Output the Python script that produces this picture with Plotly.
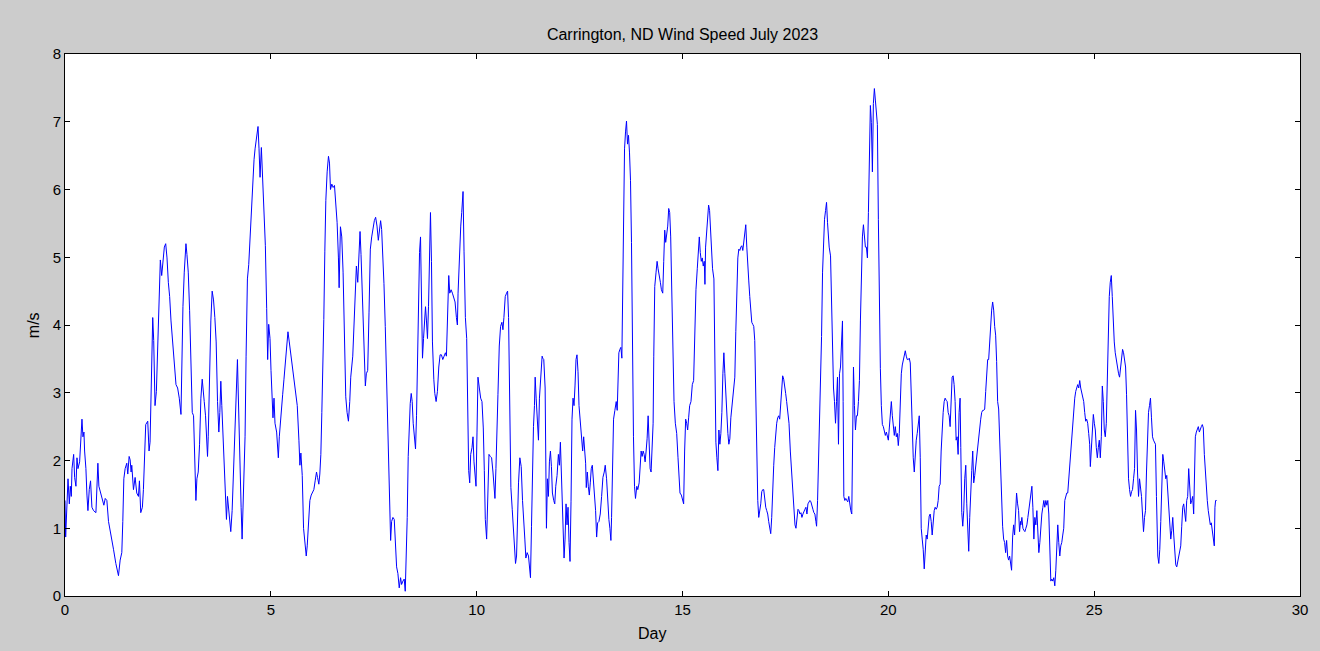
import plotly.graph_objects as go

# Wind speed (m/s), grouped in consecutive stretches of days
d1 = [0.000,0.016,0.073,0.105,0.129,0.153,0.170,0.210,0.234,0.266,
      0.291,0.315,0.355,0.379,0.412,0.436,0.460,0.476,0.508,0.533,
      0.557,0.589,0.621,0.654,0.694,0.751,0.775,0.799,0.823,0.856,
      0.896,0.944,0.977,1.017,1.057,1.122,1.178,1.235,1.299,1.340,
      1.380,1.404,1.429,1.461,1.501,1.525,1.558,1.582,1.606,1.622,
      1.663,1.703,1.743,1.784,1.808,1.840,1.880,1.905,1.929,1.961,
      2.010,2.042,2.066,2.090,2.107,2.131,2.155,2.187,2.220,2.252,
      2.284]
v1 = [1.41,0.87,1.73,1.36,1.62,1.47,1.88,2.09,1.75,1.62,
      2.04,1.88,1.98,2.35,2.61,2.35,2.42,2.14,1.88,1.49,
      1.26,1.57,1.70,1.31,1.26,1.23,1.62,1.96,1.62,1.54,
      1.47,1.34,1.44,1.41,1.10,0.84,0.69,0.48,0.30,0.53,
      0.64,1.10,1.73,1.88,1.96,1.80,2.06,2.01,1.83,1.93,
      1.57,1.75,1.52,1.47,1.70,1.23,1.31,1.57,2.14,2.53,
      2.58,2.14,2.27,2.84,3.64,4.11,3.77,2.81,3.02,3.69,
      4.65]

d2 = [2.292,2.316,2.349,2.381,2.413,2.446,2.478,2.510,2.542,2.575,
      2.623,2.655,2.696,2.736,2.776,2.817,2.833,2.865,2.897,2.938,
      2.962,2.994,3.027,3.059,3.091,3.123,3.156,3.180,3.204,3.236,
      3.269,3.301,3.333,3.357,3.382,3.414,3.438,3.462,3.479,3.503,
      3.543,3.575,3.608,3.640,3.672,3.705,3.737,3.761,3.785,3.809,
      3.842,3.866,3.898,3.922,3.947,3.971,4.003,4.027,4.060,4.092,
      4.116,4.148,4.173,4.189,4.205,4.229,4.253,4.278,4.302,4.326,
      4.350,4.374,4.399,4.431,4.463,4.496,4.528,4.560,4.592,4.617]
v2 = [4.63,4.96,4.73,4.94,5.15,5.20,4.99,4.63,4.42,4.06,
      3.64,3.38,3.12,3.07,2.92,2.68,3.23,4.27,4.78,5.20,
      5.04,4.78,4.21,3.28,2.71,2.66,2.01,1.41,1.73,1.83,
      2.24,2.92,3.20,3.07,2.87,2.66,2.35,2.06,2.35,3.23,
      4.06,4.50,4.37,4.11,3.75,2.87,2.42,2.71,3.17,2.81,
      2.35,1.98,1.47,1.13,1.47,1.31,1.05,0.95,1.26,1.78,
      2.30,2.81,3.25,3.49,3.07,2.61,1.83,1.31,0.84,1.31,
      1.93,2.35,3.54,4.68,4.89,5.30,5.77,6.18,6.44,6.60]

d3 = [4.657,4.689,4.713,4.738,4.770,4.802,4.835,4.867,4.899,4.923,
      4.948,4.980,5.004,5.028,5.052,5.077,5.101,5.141,5.182,5.206,
      5.238,5.287,5.319,5.351,5.383,5.416,5.448,5.480,5.521,5.561,
      5.601,5.642,5.682,5.706,5.730,5.763,5.795,5.827,5.860,5.884,
      5.916,5.948,5.981,6.013,6.045,6.077,6.110,6.134,6.166,6.190,
      6.215,6.239,6.263,6.287,6.312,6.336,6.368,6.400,6.425,6.449,
      6.481,6.513,6.546,6.578,6.610,6.642,6.659,6.691,6.723,6.755,
      6.788,6.820,6.852,6.885,6.917,6.941]
v3 = [6.80,6.93,6.60,6.18,6.62,6.13,5.51,5.17,4.24,3.49,
      4.01,3.80,3.33,2.87,2.63,2.92,2.55,2.42,2.04,2.35,
      2.66,2.97,3.20,3.44,3.75,3.90,3.75,3.59,3.38,3.18,
      3.02,2.81,2.30,1.93,2.11,1.78,1.00,0.77,0.59,0.74,
      1.16,1.41,1.49,1.54,1.57,1.70,1.83,1.75,1.65,1.80,
      2.09,2.71,3.23,4.08,5.09,5.84,6.26,6.49,6.39,6.00,
      6.08,6.03,6.06,5.79,5.51,4.99,4.55,5.45,5.30,4.78,
      3.90,2.94,2.71,2.58,2.87,3.23]

d4 = [6.990,7.022,7.046,7.078,7.111,7.143,7.167,7.191,7.224,7.248,
      7.272,7.296,7.320,7.353,7.385,7.417,7.450,7.482,7.514,7.546,
      7.579,7.611,7.643,7.667,7.692,7.716,7.748,7.780,7.813,7.845,
      7.877,7.910,7.934,7.966,7.998,8.023,8.055,8.087,8.119,8.152,
      8.176,8.208,8.240,8.265,8.289,8.313,8.337,8.362,8.386,8.410,
      8.434,8.458,8.491,8.515,8.539,8.563,8.588,8.612,8.636,8.660,
      8.684,8.709,8.733,8.757,8.781,8.805,8.830,8.854,8.878,8.902,
      8.926,8.959,8.983,9.015,9.047,9.080,9.112,9.144,9.177,9.209,
      9.241,9.265]
v4 = [3.54,4.04,4.61,4.87,4.63,4.99,5.38,5.04,4.47,3.93,
      3.38,3.10,3.28,3.33,4.19,5.12,5.30,5.46,5.54,5.59,
      5.46,5.25,5.38,5.54,5.41,5.10,4.61,3.98,3.10,2.19,
      1.41,0.82,1.10,1.16,1.13,0.69,0.43,0.33,0.12,0.27,
      0.17,0.22,0.25,0.07,0.59,1.16,2.06,2.50,2.84,2.99,
      2.87,2.55,2.35,2.17,2.66,3.69,4.68,5.07,5.30,3.96,
      3.51,3.80,4.08,4.27,4.06,3.80,4.27,5.20,5.66,4.94,
      3.75,3.20,2.99,2.87,3.02,3.38,3.56,3.56,3.49,3.54,
      3.59,3.54]

d5 = [9.290,9.322,9.346,9.379,9.411,9.443,9.475,9.508,9.532,9.548,
      9.580,9.613,9.637,9.669,9.693,9.726,9.758,9.782,9.806,9.831,
      9.855,9.887,9.911,9.935,9.960,9.984,10.008,10.032,10.065,10.097,
      10.129,10.161,10.186,10.210,10.242,10.266,10.299,10.331,10.363,10.396,
      10.420,10.444,10.468,10.492,10.517,10.549,10.581,10.613,10.638,10.662,
      10.694,10.726,10.751,10.775,10.799,10.831,10.864,10.896,10.920,10.944,
      10.969,10.993,11.017,11.049,11.082,11.114,11.146,11.170,11.195,11.227,
      11.259,11.283,11.307,11.332,11.356,11.380,11.404,11.421,11.445,11.477,
      11.501,11.525,11.550,11.574,11.590]
v5 = [4.27,4.73,4.47,4.52,4.47,4.42,4.34,4.11,4.00,4.47,
      5.12,5.46,5.66,5.97,5.09,4.11,3.80,2.87,1.85,1.67,
      2.09,2.19,2.35,1.98,1.83,1.62,2.42,3.23,3.07,2.92,
      2.87,2.48,1.85,1.13,0.84,1.31,2.09,2.06,2.04,1.83,
      1.57,1.44,1.88,2.27,2.97,3.69,3.98,4.04,3.93,4.11,
      4.42,4.47,4.50,4.11,2.76,1.60,1.28,0.97,0.59,0.48,
      0.59,1.26,1.67,2.04,1.91,1.41,1.16,0.84,0.56,0.64,
      0.59,0.43,0.27,1.03,1.96,2.50,2.81,3.23,2.92,2.55,
      2.30,2.92,3.18,3.54,3.54]

d6 = [11.606,11.630,11.663,11.679,11.695,11.719,11.743,11.767,11.792,11.816,
      11.840,11.872,11.897,11.921,11.953,11.985,12.010,12.034,12.058,12.082,
      12.098,12.123,12.147,12.171,12.195,12.219,12.244,12.268,12.292,12.316,
      12.341,12.365,12.389,12.413,12.437,12.462,12.486,12.518,12.550,12.575,
      12.599,12.623,12.647,12.663,12.688,12.712,12.736,12.760,12.784,12.809,
      12.833,12.857,12.889,12.914,12.938,12.970,13.002,13.035,13.067,13.099,
      13.123,13.156,13.188,13.212,13.236,13.261,13.277,13.301,13.325,13.357,
      13.390,13.414,13.430,13.454,13.479,13.503,13.527,13.543,13.567,13.592,
      13.616,13.640,13.664,13.688,13.713,13.737,13.761,13.785,13.809,13.834,
      13.858,13.890,13.914]
v6 = [3.51,3.49,3.07,1.88,1.00,1.73,1.47,1.98,2.14,1.91,
      1.52,1.41,1.36,1.62,1.78,2.09,1.93,2.27,1.83,1.18,
      0.90,0.56,0.84,1.36,1.05,1.31,0.79,0.51,1.39,2.61,
      2.92,2.81,3.10,3.49,3.56,3.31,2.81,2.61,2.37,2.14,
      2.35,2.14,1.96,1.60,1.83,1.62,1.49,1.67,1.88,1.93,
      1.75,1.44,1.26,0.87,1.08,1.10,1.21,1.47,1.75,1.83,
      1.93,1.73,1.31,1.13,1.00,0.82,1.16,2.09,2.61,2.74,
      2.87,2.74,3.12,3.59,3.64,3.67,3.51,4.47,5.79,6.60,
      6.85,7.01,6.67,6.80,6.54,6.13,5.22,3.64,2.35,1.62,
      1.44,1.62,1.57]

d7 = [13.947,13.971,13.995,14.019,14.044,14.068,14.092,14.116,14.140,14.165,
      14.189,14.213,14.237,14.262,14.286,14.302,14.326,14.358,14.383,14.407,
      14.439,14.463,14.488,14.520,14.544,14.568,14.592,14.617,14.641,14.665,
      14.689,14.713,14.738,14.762,14.794,14.826,14.859,14.891,14.915,14.939,
      14.972,15.004,15.028,15.052,15.077,15.101,15.125,15.149,15.174,15.206,
      15.238,15.270,15.295,15.327,15.359,15.383,15.408,15.432,15.456,15.480,
      15.504,15.529,15.545,15.561,15.585,15.609,15.634,15.658,15.682,15.706,
      15.730,15.763,15.787,15.811,15.835,15.860,15.884,15.908,15.932,15.956,
      15.981,16.005,16.029,16.053,16.077,16.102,16.126,16.150,16.174,16.198,
      16.223]
v7 = [1.67,1.98,2.14,2.06,2.14,2.09,1.98,2.14,2.32,2.66,
      2.04,1.88,1.83,2.17,2.55,3.54,4.57,4.78,4.94,4.83,
      4.73,4.63,4.52,4.47,4.94,5.40,5.22,5.35,5.46,5.72,
      5.66,5.30,4.57,3.64,2.87,2.55,2.40,2.04,1.65,1.52,
      1.49,1.41,1.36,2.14,2.61,2.55,2.45,2.63,2.81,2.87,
      3.12,3.18,3.77,4.52,4.83,5.15,5.30,5.07,4.94,4.99,
      4.87,4.94,4.60,5.15,5.40,5.66,5.77,5.69,5.40,5.04,
      4.83,4.68,3.54,2.27,2.04,1.85,2.45,2.24,2.40,2.71,
      3.28,3.59,3.28,2.92,2.58,2.40,2.24,2.32,2.63,2.81,
      2.87]

d8 = [16.271,16.295,16.320,16.344,16.368,16.392,16.416,16.441,16.465,16.489,
      16.513,16.537,16.562,16.586,16.610,16.634,16.659,16.683,16.707,16.731,
      16.755,16.780,16.804,16.828,16.852,16.876,16.901,16.925,16.949,16.973,
      16.998,17.022,17.046,17.070,17.094,17.119,17.143,17.167,17.191,17.216,
      17.240,17.264,17.288,17.312,17.337,17.361,17.385,17.409,17.433,17.458,
      17.482,17.506,17.530,17.554,17.587,17.619,17.651,17.684,17.708,17.732,
      17.756,17.780,17.805,17.829,17.853,17.877,17.901,17.926,17.950,17.974,
      17.998,18.023,18.047,18.071,18.095,18.119,18.144,18.168,18.192,18.216,
      18.240,18.257,18.281,18.305,18.329,18.353,18.378,18.402,18.426,18.450,
      18.475,18.499,18.523,18.547,18.563]
v8 = [3.23,3.90,4.68,4.99,5.12,5.10,5.15,5.17,5.10,5.25,
      5.30,5.48,5.15,4.78,4.65,4.42,4.19,4.04,4.01,3.98,
      3.77,2.92,1.93,1.41,1.16,1.26,1.36,1.54,1.57,1.57,
      1.41,1.31,1.26,1.21,1.10,1.00,0.92,1.16,1.62,1.93,
      2.19,2.45,2.55,2.63,2.66,2.61,2.87,3.12,3.25,3.20,
      3.12,2.99,2.87,2.76,2.55,2.14,1.83,1.47,1.16,1.05,
      1.00,1.16,1.28,1.26,1.21,1.23,1.16,1.21,1.26,1.28,
      1.31,1.21,1.36,1.39,1.41,1.39,1.31,1.28,1.23,1.21,
      1.10,1.03,1.41,1.96,2.45,3.07,3.83,4.78,5.35,5.56,
      5.69,5.81,5.51,5.25,5.15]

d9 = [18.596,18.620,18.644,18.668,18.692,18.717,18.741,18.765,18.789,18.814,
      18.838,18.862,18.886,18.902,18.919,18.943,18.967,18.991,19.015,19.040,
      19.064,19.088,19.112,19.128,19.153,19.177,19.201,19.225,19.249,19.274,
      19.298,19.322,19.346,19.370,19.395,19.419,19.443,19.467,19.492,19.516,
      19.540,19.564,19.588,19.613,19.637,19.661,19.685,19.709,19.734,19.758,
      19.782,19.806,19.830,19.855,19.879,19.903,19.927,19.952,19.976,20.000,
      20.024,20.048,20.073,20.097,20.121,20.145,20.169,20.194,20.218,20.242,
      20.266,20.291,20.315,20.339,20.363,20.387,20.412,20.436,20.460,20.484,
      20.508,20.533,20.557,20.581,20.605,20.630,20.654,20.678,20.702,20.726,
      20.751,20.775,20.799,20.823,20.847]
v9 = [5.02,4.32,3.64,3.07,2.87,2.55,2.87,3.23,2.24,3.28,
      3.38,3.80,4.06,2.87,1.47,1.41,1.44,1.41,1.39,1.47,
      1.31,1.26,1.21,2.35,3.38,2.81,2.45,2.66,2.66,2.87,
      3.18,4.06,4.78,5.30,5.48,5.35,5.15,5.15,4.99,5.66,
      6.80,7.24,6.99,6.26,7.27,7.49,7.32,7.17,6.96,5.56,
      3.95,3.36,2.81,2.53,2.50,2.45,2.37,2.42,2.35,2.30,
      2.48,2.66,2.87,2.66,2.45,2.37,2.50,2.35,2.40,2.22,
      2.40,2.87,3.28,3.41,3.49,3.54,3.62,3.54,3.49,3.49,
      3.51,3.44,2.92,2.35,2.04,1.83,2.19,2.30,2.40,2.55,
      2.66,2.04,1.00,0.84,0.69]

d10 = [20.872,20.896,20.920,20.944,20.969,20.993,21.017,21.041,21.065,21.090,
       21.114,21.138,21.162,21.186,21.211,21.235,21.259,21.283,21.308,21.332,
       21.356,21.380,21.404,21.429,21.453,21.477,21.501,21.525,21.550,21.574,
       21.598,21.622,21.647,21.671,21.695,21.719,21.743,21.760,21.784,21.808,
       21.832,21.856,21.881,21.905,21.929,21.953,21.977,22.002,22.026,22.050,
       22.074,22.099,22.123,22.147,22.171,22.195,22.220,22.244,22.268,22.292,
       22.316,22.341,22.365,22.389,22.413,22.437,22.462,22.486,22.510,22.534,
       22.559,22.583,22.607,22.631,22.655,22.680,22.704,22.728,22.752,22.776,
       22.801,22.825,22.849,22.873,22.898,22.922,22.946,22.970,22.994,23.019,
       23.043,23.067,23.091,23.115,23.140,23.164,23.188,23.212]
v10 = [0.40,0.74,0.90,0.84,1.00,1.18,1.21,1.10,0.90,1.16,
       1.26,1.31,1.28,1.31,1.41,1.62,1.65,2.14,2.55,2.71,
       2.87,2.92,2.89,2.87,2.71,2.66,2.50,2.81,3.23,3.25,
       3.12,2.87,2.30,2.35,2.09,2.71,2.92,2.19,1.23,1.03,
       1.26,1.73,1.93,1.36,0.84,0.66,1.16,1.65,1.85,2.14,
       1.67,1.78,1.93,2.09,2.19,2.40,2.50,2.61,2.71,2.74,
       2.74,2.76,3.02,3.33,3.49,3.49,3.82,4.11,4.22,4.34,
       4.22,3.98,3.85,3.46,2.87,2.76,2.24,2.09,1.47,1.03,
       0.84,0.79,0.64,0.82,0.59,0.53,0.59,0.48,0.38,0.87,
       1.05,0.90,1.36,1.52,1.36,1.26,0.95,1.10]

d11 = [23.220,23.244,23.269,23.293,23.317,23.341,23.366,23.390,23.414,23.438,
       23.462,23.487,23.511,23.535,23.559,23.583,23.608,23.632,23.656,23.680,
       23.705,23.729,23.753,23.777,23.801,23.826,23.850,23.874,23.898,23.922,
       23.947,23.971,23.995,24.019,24.044,24.068,24.092,24.116,24.140,24.165,
       24.189,24.213,24.237,24.261,24.286,24.310,24.334,24.358,24.383,24.407,
       24.431,24.455,24.479,24.504,24.528,24.552,24.576,24.600,24.625,24.649,
       24.673,24.697,24.721,24.746,24.770,24.794,24.818,24.843,24.867,24.891,
       24.907,24.931,24.956,24.980,25.004,25.028,25.052,25.077,25.101,25.125,
       25.149,25.174,25.198,25.222,25.246,25.270,25.295,25.319,25.343,25.367,
       25.391,25.416,25.440,25.464,25.488,25.512,25.537]
v11 = [1.05,1.16,1.00,0.97,0.95,1.00,1.05,1.16,1.26,1.41,
       1.52,1.62,1.31,0.84,1.16,1.05,1.26,0.84,0.64,0.79,
       1.10,1.21,1.31,1.41,1.31,1.41,1.34,1.41,1.21,0.59,
       0.22,0.25,0.22,0.27,0.15,0.38,0.82,1.05,0.79,0.59,
       0.74,0.79,0.90,1.00,1.41,1.49,1.52,1.52,1.73,2.04,
       2.19,2.40,2.61,2.87,2.92,3.02,3.07,3.12,3.07,3.18,
       3.07,2.99,2.92,2.87,2.71,2.58,2.61,2.55,2.40,2.24,
       1.91,2.24,2.40,2.68,2.55,2.45,2.19,2.04,2.19,2.30,
       2.04,2.35,3.10,2.87,2.45,2.35,2.55,3.23,3.67,4.42,
       4.63,4.73,4.42,4.00,3.75,3.59,3.49]

d12 = [25.569,25.593,25.617,25.642,25.666,25.690,25.714,25.739,25.763,25.787,
       25.811,25.835,25.860,25.884,25.908,25.932,25.957,25.981,26.005,26.029,
       26.053,26.078,26.102,26.126,26.150,26.174,26.199,26.223,26.247,26.271,
       26.296,26.320,26.344,26.368,26.392,26.417,26.441,26.465,26.489,26.513,
       26.530,26.546,26.570,26.594,26.618,26.643,26.667,26.691,26.715,26.739,
       26.764,26.788,26.812,26.836,26.861,26.885,26.909,26.933,26.957,26.982,
       27.006,27.030,27.054,27.078,27.103,27.127,27.151,27.175,27.200,27.224,
       27.248,27.272,27.296,27.321,27.345,27.369,27.393,27.417,27.442,27.458,
       27.482,27.506,27.530,27.555,27.579,27.603,27.627,27.651,27.676,27.700,
       27.724,27.748,27.772,27.797,27.821,27.845,27.869,27.894,27.918,27.934,
       27.950,27.974]
v12 = [3.33,3.28,3.23,3.38,3.54,3.64,3.59,3.51,3.38,2.97,
       2.14,1.73,1.57,1.47,1.54,1.57,1.73,1.88,2.74,2.45,
       1.83,1.47,1.73,1.62,1.47,1.21,0.95,1.16,1.26,1.83,
       2.45,2.71,2.81,2.92,2.63,2.35,2.30,2.27,2.24,1.47,
       0.90,0.59,0.48,0.69,1.10,1.62,2.09,1.98,1.85,1.73,
       1.78,1.52,1.26,1.00,0.84,0.97,1.16,0.90,0.64,0.46,
       0.43,0.51,0.59,0.66,0.74,1.03,1.31,1.36,1.21,1.10,
       1.41,1.47,1.88,1.62,1.36,1.41,1.47,1.21,1.78,2.35,
       2.42,2.45,2.50,2.42,2.48,2.50,2.53,2.48,2.09,1.83,
       1.57,1.41,1.26,1.10,1.05,1.08,0.95,0.90,0.74,1.31,
       1.41,1.41]

day_parts = [d1, d2, d3, d4, d5, d6, d7, d8, d9, d10, d11, d12]
speed_parts = [v1, v2, v3, v4, v5, v6, v7, v8, v9, v10, v11, v12]

day, speed = [], []
for dd, vv in zip(day_parts, speed_parts):
    n = min(len(dd), len(vv))
    day.extend(dd[:n])
    speed.extend(vv[:n])

title_text = "Carrington, ND Wind Speed July 2023"
x_label = "Day"
y_label = "m/s"

FONT = "Liberation Sans, Arial, Helvetica, sans-serif"

fig = go.Figure()
fig.add_trace(go.Scatter(x=day, y=speed, mode="lines",
                         line=dict(color="#0000ff", width=1),
                         hoverinfo="skip", showlegend=False))

axis_common = dict(showline=True, linecolor="black", linewidth=1, mirror="ticks",
                   ticks="inside", ticklen=5, tickwidth=1, tickcolor="black",
                   showgrid=False, zeroline=False,
                   tickfont=dict(family=FONT, size=15, color="black"))

fig.update_layout(
    width=1320, height=651,
    paper_bgcolor="#cccccc", plot_bgcolor="white",
    margin=dict(l=65, r=13, t=54, b=55),
    showlegend=False,
    font=dict(family=FONT, size=15, color="black"),
    title=dict(text=title_text, x=0.5, xref="paper", y=1 - 34/651, yref="container",
               xanchor="center", yanchor="middle",
               font=dict(family=FONT, size=16, color="black")),
    xaxis=dict(range=[0, 30], tick0=0, dtick=5, **axis_common),
    yaxis=dict(range=[0, 8], tick0=0, dtick=1, **axis_common),
    annotations=[
        dict(text=x_label, xref="paper", yref="paper", x=(655-65)/1242, y=-(633-596)/542,
             xanchor="center", yanchor="middle", showarrow=False,
             font=dict(family=FONT, size=16, color="black")),
        dict(text=y_label, xref="paper", yref="paper", x=(33-65)/1242, y=0.5,
             xanchor="center", yanchor="middle", textangle=-90, showarrow=False,
             font=dict(family=FONT, size=16, color="black")),
    ],
)

fig.write_html("out.html")
